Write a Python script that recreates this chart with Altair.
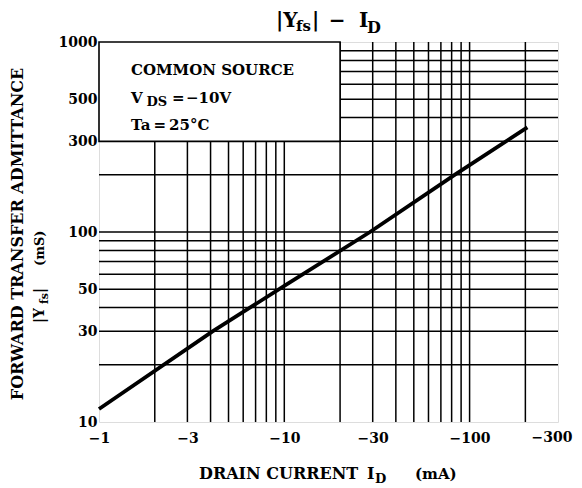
import altair as alt
import pandas as pd

# ---- data ----
id_ma = [1, 4.1, 10, 29, 83, 205]          # drain current magnitude (mA)
yfs_ms = [11.7, 30, 52, 100, 200, 355]     # forward transfer admittance (mS)

x_grid = [2, 3, 4, 5, 6, 7, 8, 9, 10, 20, 30, 40, 50, 60, 70, 80, 90, 100, 200]
y_grid = [20, 30, 40, 50, 60, 70, 80, 90, 100, 200, 300, 400, 500, 600, 700, 800, 900]
x_labels = [1, 3, 10, 30, 100, 300]
y_labels = [10, 30, 50, 100, 300, 500, 1000]
box_x = [1, 20]
box_y = [300, 1000]

FONT = "DejaVu Serif"
W, H = 459, 380
X_MAX = x_labels[-1]

xs = alt.Scale(type="log", domain=[1, 300])
ys = alt.Scale(type="log", domain=[10, 1000])

xaxis = alt.Axis(values=x_labels,
                 labelExpr=f"datum.value >= {X_MAX} ? '' : '\u2212' + round(datum.value)",
                 grid=False, ticks=False, domain=False, title=None, labelFlush=False,
                 labelFont=FONT, labelFontWeight="bold", labelFontSize=14,
                 labelColor="black", labelPadding=9)
yaxis = alt.Axis(values=y_labels, labelExpr="'' + round(datum.value)",
                 grid=False, ticks=False, domain=False, title=None, labelFlush=False,
                 labelFont=FONT, labelFontWeight="bold", labelFontSize=14,
                 labelColor="black", labelPadding=2)

curve = pd.DataFrame({"id": id_ma, "yfs": yfs_ms})

xg = alt.Chart(pd.DataFrame({"id": x_grid})).mark_rule(color="black", strokeWidth=1.5).encode(
    x=alt.X("id:Q", scale=xs, axis=xaxis))
yg = alt.Chart(pd.DataFrame({"yfs": y_grid})).mark_rule(color="black", strokeWidth=1.5).encode(
    y=alt.Y("yfs:Q", scale=ys, axis=yaxis))

box = alt.Chart(pd.DataFrame({"id": [box_x[0]], "x2": [box_x[1]],
                              "yfs": [box_y[0]], "y2": [box_y[1]]})).mark_rect(
    fill="white", stroke="black", strokeWidth=1.6).encode(
    x=alt.X("id:Q", scale=xs, axis=xaxis), x2="x2:Q",
    y=alt.Y("yfs:Q", scale=ys, axis=yaxis), y2="y2:Q")

line = alt.Chart(curve).mark_line(color="black", strokeWidth=3.8).encode(
    x=alt.X("id:Q", scale=xs, axis=xaxis),
    y=alt.Y("yfs:Q", scale=ys, axis=yaxis),
)

# last x tick label, nudged left so it stays inside the page
last_lab = alt.Chart(pd.DataFrame({"id": [X_MAX]})).mark_text(
    text="\u2212" + str(X_MAX), font=FONT, fontWeight="bold", fontSize=14, color="black",
    align="center", baseline="top", dx=-6).encode(
    x=alt.X("id:Q", scale=xs, axis=xaxis), y=alt.value(H + 9))

one = pd.DataFrame({"a": [0]})


def txt(s, x, y, size, align="left", angle=0, baseline="alphabetic"):
    return alt.Chart(one).mark_text(
        text=s, font=FONT, fontWeight="bold", fontSize=size, color="black",
        align=align, baseline=baseline, angle=angle).encode(
        x=alt.value(x), y=alt.value(y))


texts = [
    # title |Yfs| - ID
    txt("|Y", 177, -15, 20),
    txt("fs", 197, -11, 15),
    txt("|", 213, -15, 20),
    txt("\u2212", 238, -15, 20, align="center"),
    txt("I", 260, -15, 20),
    txt("D", 268, -9.5, 16),
    # in-plot note
    txt("COMMON SOURCE", 32, 33, 15),
    txt("V", 32, 61, 15),
    txt("DS", 47.5, 64, 13),
    txt("=", 73, 61, 15),
    txt("\u221210V", 87, 61, 15),
    txt("Ta\u2009=\u200925\u00b0C", 32, 88, 15),
    # x title
    txt("DRAIN CURRENT", 100, 437, 16),
    txt("I", 268, 437, 16),
    txt("D", 276, 441, 13),
    txt("(mA)", 316, 437, 15),
    # y title
    txt("FORWARD TRANSFER ADMITTANCE", -76, 192, 16, align="center", angle=270),
    txt("|Y", -55, 281, 14, angle=270),
    txt("fs", -51, 262, 11, angle=270),
    txt("|", -55, 251, 14, angle=270),
    txt("(mS)", -55, 224, 13, angle=270),
]

chart = alt.layer(xg, yg, box, line, last_lab, *texts).properties(
    width=W, height=H,
    autosize=alt.AutoSizeParams(type="none"),
    padding={"left": 91, "top": 34, "right": 16, "bottom": 64},
).configure_view(stroke="black", strokeWidth=2).configure(background="white")

chart.save("out.html", embed_options={"renderer": "svg", "actions": False})
